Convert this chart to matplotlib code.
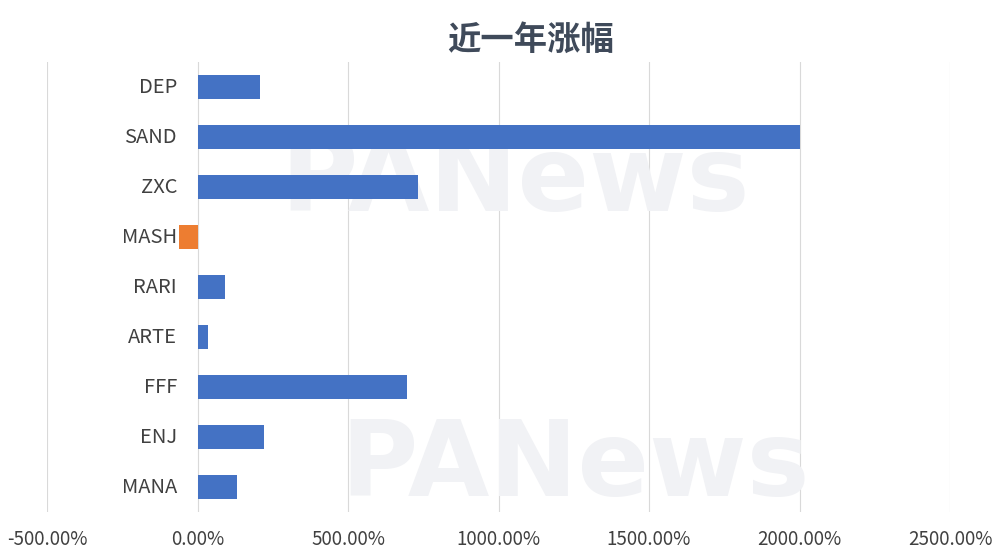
import matplotlib
matplotlib.use('Agg')
import matplotlib.pyplot as plt
from matplotlib.ticker import FuncFormatter

plt.rcParams['font.family'] = ['Noto Sans CJK SC', 'DejaVu Sans']

tokens = ['DEP', 'SAND', 'ZXC', 'MASH', 'RARI', 'ARTE', 'FFF', 'ENJ', 'MANA']
gains = [209, 2003, 732, -62, 91, 35, 695, 220, 130]
xticks = [-500, 0, 500, 1000, 1500, 2000, 2500]

fig = plt.figure(figsize=(10, 5.59), dpi=100)
ax = fig.add_axes([0.047, 0.084, 0.903, 0.805])

# faint watermark behind the bars
for wx, wy in [(0.515, 0.675), (0.575, 0.165)]:
    ax.text(wx, wy, 'PANews', fontsize=76, fontweight='bold', color='#f1f2f5',
            ha='center', va='center', family='DejaVu Sans', zorder=1,
            transform=fig.transFigure)

y = list(range(len(tokens)))
colors = ['#ed7d31' if v < 0 else '#4472c4' for v in gains]
ax.barh(y, gains, height=0.48, color=colors, zorder=3)

ax.set_xlim(-500, 2500)
ax.set_ylim(len(tokens) - 0.5, -0.5)
ax.set_xticks(xticks)
ax.xaxis.set_major_formatter(FuncFormatter(lambda v, p: f'{v:.2f}%'))
ax.set_yticks([])
ax.grid(axis='x', color='#d9d9d9', linewidth=0.8, zorder=0)
ax.set_axisbelow(True)
ax.patch.set_alpha(0)
for s in ax.spines.values():
    s.set_visible(False)
ax.tick_params(length=0, labelsize=13.5, labelcolor='#404040', pad=12)

# category labels sit just left of the zero line
for i, t in enumerate(tokens):
    ax.text(-68, i, t, ha='right', va='center', fontsize=14.5,
            color='#404040', zorder=4)

fig.text(0.531, 0.928, '近一年涨幅', ha='center', va='center', fontsize=24,
         fontweight='bold', color='#3f4a5a')

fig.savefig('out.png', dpi=100)
